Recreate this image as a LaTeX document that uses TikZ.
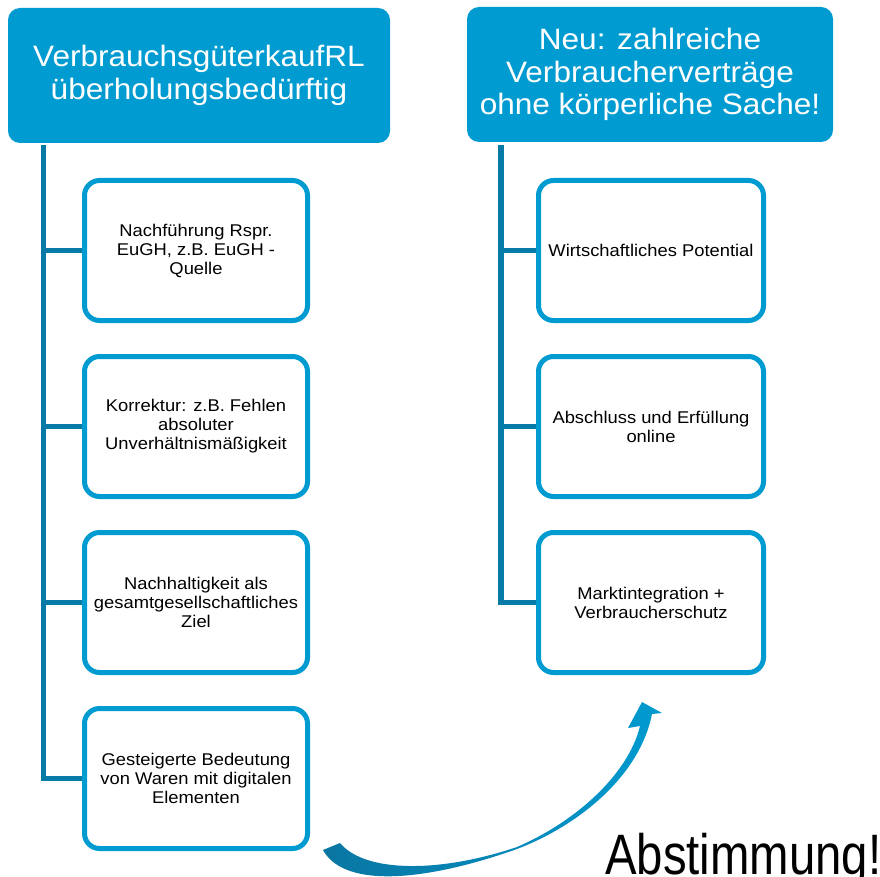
\documentclass[tikz,border=0pt]{standalone}
\usepackage{fontspec}
\setmainfont{Liberation Sans}
\newfontfamily\hfont[FakeStretch=1.07]{Liberation Sans}
\newfontfamily\bfontx[FakeStretch=1.08]{Liberation Sans}
\newfontfamily\afont[FakeStretch=0.83]{Liberation Sans}
\definecolor{hblue}{RGB}{0,155,208}
\definecolor{cdark}{RGB}{8,122,166}
\definecolor{adark}{RGB}{10,118,162}
\tikzset{
  hdr/.style={fill=hblue, draw=none, rounded corners=12pt, text=white, align=center,
    font=\hfont\fontsize{29.5}{32.5}\selectfont, inner sep=0pt},
  itembox/.style={draw=hblue, line width=5pt, fill=white, rounded corners=15pt,
    minimum width=223pt, minimum height=140pt, align=center, inner sep=0pt,
    font=\bfontx\fontsize{17}{19}\selectfont},
  conn/.style={draw=cdark, line width=5.5pt},
}
\begin{document}
\begin{tikzpicture}[x=1pt,y=-1pt]
\useasboundingbox (0,0) rectangle (880,877);
% headers
\node[hdr, minimum width=382pt, minimum height=135pt] (hL) at (199,75.5)
  {VerbrauchsgüterkaufRL\\überholungsbedürftig};
\node[hdr, minimum width=366pt, minimum height=135pt] (hR) at (650,74.5)
  {Neu: zahlreiche\\Verbraucherverträge\\ohne körperliche Sache!};
% left boxes
\node[itembox] (l1) at (196,250.5) {Nachführung Rspr.\\EuGH, z.B. EuGH -\\Quelle};
\node[itembox] (l2) at (196,426.5) {Korrektur: z.B. Fehlen\\absoluter\\Unverhältnismäßigkeit};
\node[itembox] (l3) at (196,602.5) {Nachhaltigkeit als\\gesamtgesellschaftliches\\Ziel};
\node[itembox] (l4) at (196,778.5) {Gesteigerte Bedeutung\\von Waren mit digitalen\\Elementen};
% right boxes
\node[itembox, minimum width=225pt] (r1) at (651,250.5) {Wirtschaftliches Potential};
\node[itembox, minimum width=225pt] (r2) at (651,426.5) {Abschluss und Erfüllung\\online};
\node[itembox, minimum width=225pt] (r3) at (651,602.5) {Marktintegration +\\Verbraucherschutz};
% connectors
\coordinate (tL) at (43.5,145);
\coordinate (tR) at (501,145);
\draw[conn] (tL) |- (l4.west);
\draw[conn] (tL |- l1.west) -- (l1.west);
\draw[conn] (tL |- l2.west) -- (l2.west);
\draw[conn] (tL |- l3.west) -- (l3.west);
\draw[conn] (tR) |- (r3.west);
\draw[conn] (tR |- r1.west) -- (r1.west);
\draw[conn] (tR |- r2.west) -- (r2.west);
% curved arrow
\shade[left color=adark, right color=hblue, middle color=adark!55!hblue]
  (323,850) .. controls (345,890) and (430,880) .. (517,849)
  .. controls (580,825) and (640,775) .. (652,714)
  -- (662,713) -- (642,702) -- (628,728) -- (640,726)
  .. controls (628,775) and (575,822) .. (517,847)
  .. controls (440,873) and (365,873) .. (340,843) -- cycle;
% label
\node[anchor=base west, inner sep=0pt, font=\afont\fontsize{57}{60}\selectfont] (ab) at (605,874) {Abstimmung!};
\end{tikzpicture}
\end{document}
